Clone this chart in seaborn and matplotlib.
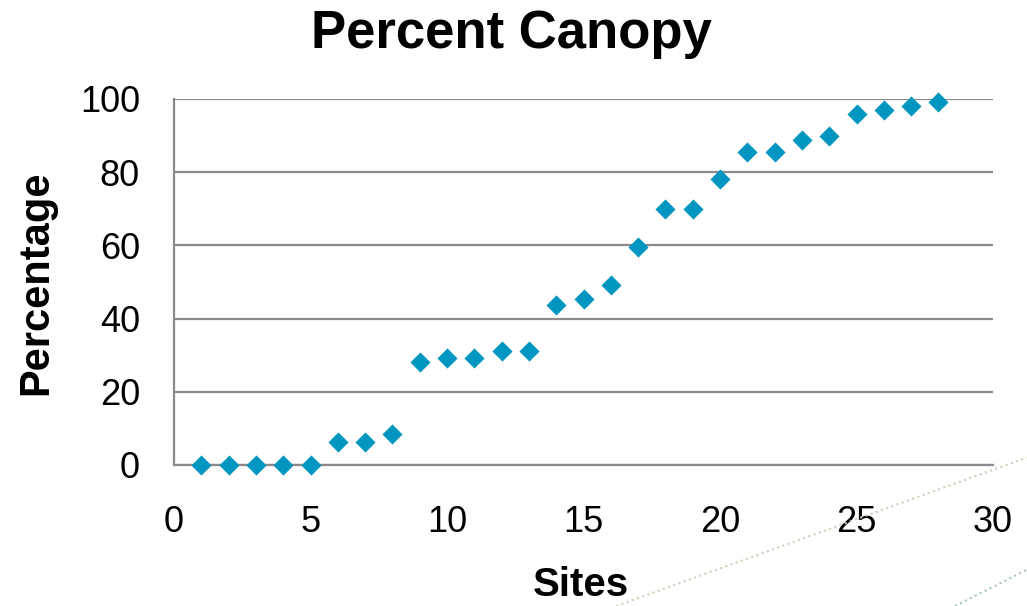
import matplotlib
matplotlib.use("Agg")
import matplotlib.pyplot as plt
import seaborn as sns
import pandas as pd
from matplotlib.lines import Line2D

# data
sites = list(range(1, 29))
canopy = [0, 0, 0, 0, 0, 6.4, 6.4, 8.6, 28.2, 29.3, 29.3, 31.2, 31.2, 43.8,
          45.4, 49.1, 59.6, 70.0, 70.0, 78.2, 85.5, 85.5, 88.7, 89.8, 95.9,
          97.0, 98.1, 99.1]
x_ticks = [0, 5, 10, 15, 20, 25, 30]
y_ticks = [0, 20, 40, 60, 80, 100]

df = pd.DataFrame({"Sites": sites, "Percentage": canopy})

sns.set_style("white")
plt.rcParams["font.family"] = ["Liberation Sans", "DejaVu Sans"]
plt.rcParams["text.color"] = "black"

fig = plt.figure(figsize=(10.27, 6.06), dpi=100)
ax = fig.add_axes([174 / 1027, 1 - 465 / 606, (993 - 174) / 1027, (465 - 99) / 606])

sns.scatterplot(data=df, x="Sites", y="Percentage", ax=ax, marker="D",
                s=105, color="#0096C0", linewidth=0, zorder=3, clip_on=False)

ax.set_xlim(0, 30)
ax.set_ylim(0, 100)
ax.set_xticks(x_ticks)
ax.set_yticks(y_ticks)
ax.yaxis.grid(True, color="#8a8a8a", linewidth=1.6)
ax.set_axisbelow(True)
for side in ["top", "right"]:
    ax.spines[side].set_visible(False)
for side in ["left", "bottom"]:
    ax.spines[side].set_color("#8a8a8a")
    ax.spines[side].set_linewidth(1.6)
ax.tick_params(axis="x", direction="out", length=8.5, width=1.6, color="#8a8a8a",
               labelcolor="black", labelsize=26, pad=20)
ax.tick_params(axis="y", direction="out", length=8, width=1.6, color="#8a8a8a",
               labelcolor="black", labelsize=26, pad=16.5)
ax.set_xlabel("")
ax.set_ylabel("")

# titles placed like the slide
fig.text(511 / 1027, 1 - 48 / 606, "Percent Canopy", fontsize=38,
         fontweight="bold", ha="center", va="baseline")
fig.text(581 / 1027, 1 - 596 / 606, "Sites", fontsize=29,
         fontweight="bold", ha="center", va="baseline")
fig.text(36 / 1027, 1 - 283 / 606, "Percentage", fontsize=30,
         fontweight="bold", ha="center", va="center", rotation=90)

# faint dotted slide decoration in the lower right
fig.add_artist(Line2D([0.60, 1.0], [0.0, 0.245], transform=fig.transFigure,
                      color="#c8d4b8", linestyle=":", linewidth=1.5))
fig.add_artist(Line2D([0.93, 1.0], [0.0, 0.06], transform=fig.transFigure,
                      color="#a8c4c0", linestyle=":", linewidth=1.5))

fig.savefig("out.png", dpi=100)
